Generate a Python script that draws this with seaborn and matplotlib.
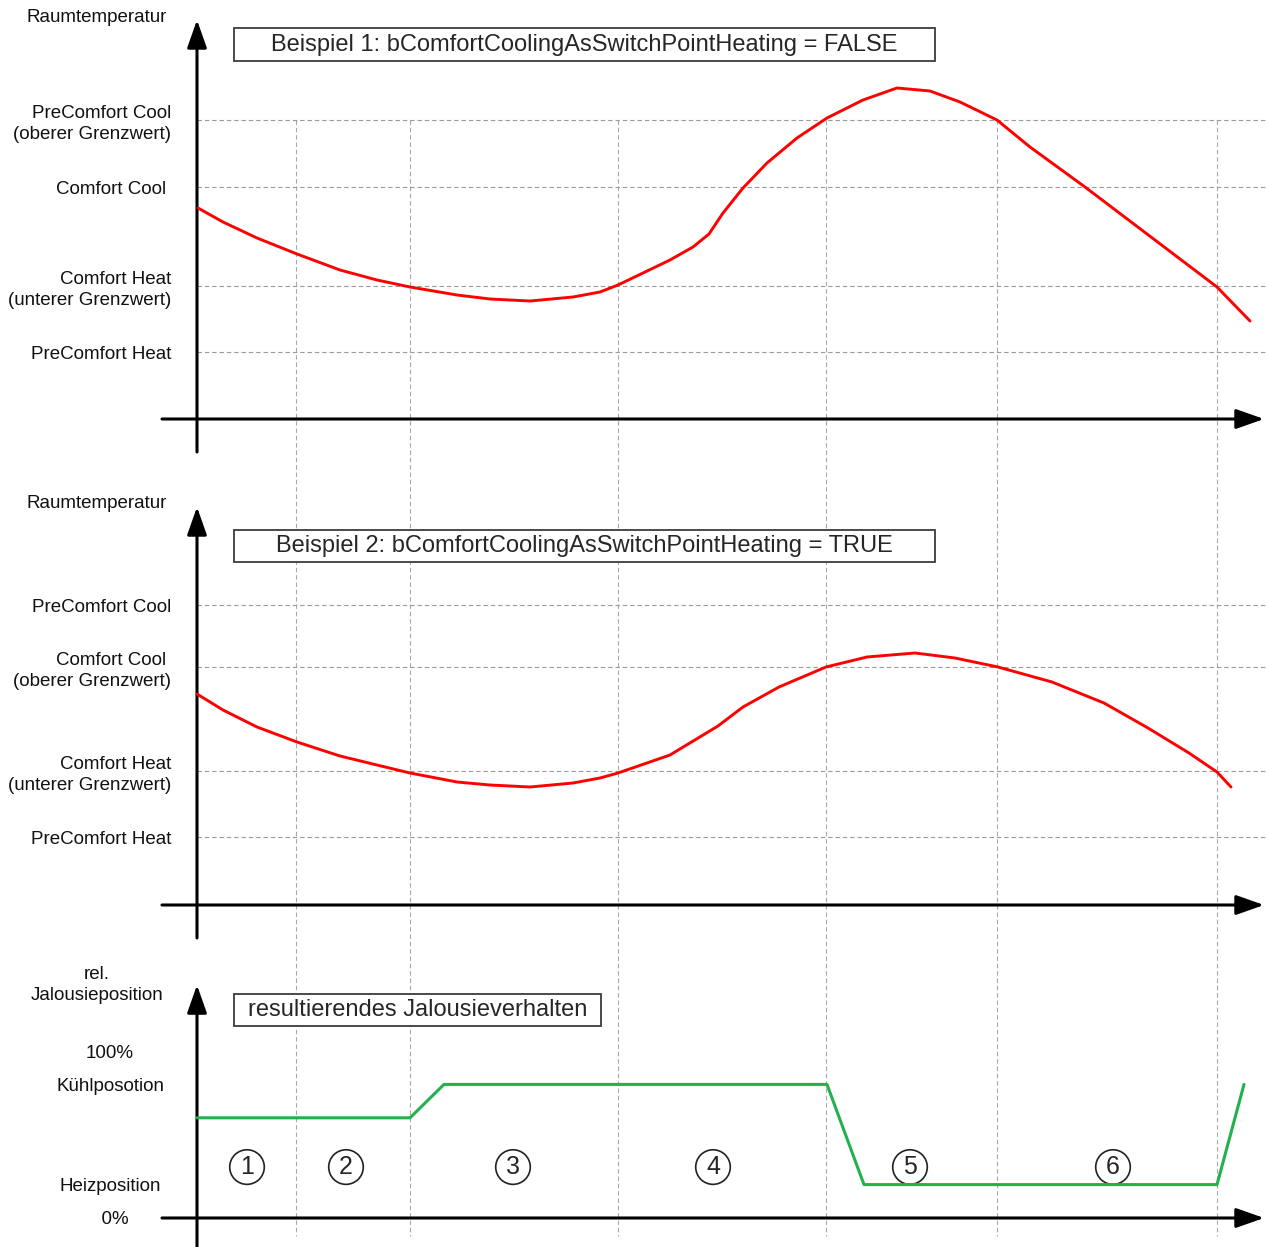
import matplotlib
matplotlib.use("Agg")
import matplotlib.pyplot as plt
import seaborn as sns
from matplotlib.patches import Rectangle

# ============================================================
# DATA  (time in relative units, temperature in relative units)
# ============================================================

# phase boundaries (dashed vertical lines)
phase_bounds = [9.9, 21.3, 42.1, 62.9, 80.0, 102.0]

# Beispiel 1
levels_1 = [6.7, 13.3, 23.2, 29.9]
labels_1 = ["PreComfort Heat", "Comfort Heat\n(unterer Grenzwert)",
            "Comfort Cool ", "PreComfort Cool\n(oberer Grenzwert)"]
time_1 = [0.1, 2.6, 6.0, 10.0, 14.3, 18.0, 21.3, 26.0, 29.3, 33.3, 37.6,
          40.3, 42.1, 44.6, 47.3, 49.6, 51.2, 52.6, 54.6, 57.0, 60.0, 63.0,
          66.6, 70.0, 73.3, 76.3, 80.0, 83.3, 88.8, 102.0, 105.3]
temp_1 = [21.1, 19.7, 18.1, 16.5, 14.9, 13.9, 13.2, 12.4, 12.0, 11.8, 12.2,
          12.7, 13.4, 14.6, 15.9, 17.2, 18.5, 20.6, 23.1, 25.6, 28.1, 30.1,
          31.9, 33.1, 32.8, 31.7, 29.9, 27.2, 23.2, 13.2, 9.8]

# Beispiel 2
levels_2 = [6.8, 13.4, 23.8, 30.0]
labels_2 = ["PreComfort Heat", "Comfort Heat\n(unterer Grenzwert)",
            "Comfort Cool \n(oberer Grenzwert)", "PreComfort Cool"]
time_2 = [0.0, 2.6, 6.0, 10.0, 14.3, 18.0, 21.3, 26.0, 29.3, 33.3, 37.6,
          40.3, 42.1, 47.3, 52.1, 54.6, 58.2, 62.9, 67.0, 71.8, 75.8, 80.1,
          85.5, 90.7, 95.1, 99.2, 102.0, 103.4]
temp_2 = [21.1, 19.5, 17.8, 16.3, 14.9, 14.0, 13.2, 12.3, 12.0, 11.8, 12.2,
          12.7, 13.2, 15.0, 17.9, 19.8, 21.8, 23.8, 24.8, 25.2, 24.7, 23.8,
          22.3, 20.2, 17.7, 15.2, 13.3, 11.8]

# resultierendes Jalousieverhalten (%)
levels_3 = [0, 20, 80, 100]
labels_3 = ["  0%", "Heizposition", "Kühlposotion", "100%"]
time_3 = [0.0, 21.3, 24.7, 63.0, 66.7, 102.0, 104.7]
pos_3 = [60, 60, 80, 80, 20, 20, 80]

phase_names = ["1", "2", "3", "4", "5", "6"]
phase_label_t = [5.0, 14.9, 31.6, 51.6, 71.3, 91.6]
phase_label_pos = 30.5

# ============================================================
# STYLE
# ============================================================

sns.set_style("white")
plt.rcParams["font.family"] = ["Liberation Sans", "DejaVu Sans"]

W, H = 1266, 1247
XLIM = (-19.7, 106.9)
GRID_KW = dict(colors="#9a9a9a", linewidths=0.8, linestyles=(0, (4, 2.6)))
ARROW = dict(arrowstyle="-|>,head_length=1.7,head_width=0.6",
             color="black", lw=2.2, shrinkA=0, shrinkB=0)

fig = plt.figure(figsize=(W / 100, H / 100), dpi=100)
fig.patch.set_facecolor("white")

# background axes in pixel rows for the long vertical phase lines
bg = fig.add_axes([0, 0, 1, 1], zorder=0)
bg.set_xlim(*XLIM)
bg.set_ylim(H, 0)
bg.axis("off")
bg.vlines(phase_bounds, 120, 1236, colors="#a8a8a8", linewidths=0.8,
          linestyles=(0, (4, 2.6)))


def make_panel(top_px, bottom_px, ylim, levels, labels, ylab, ylab_y,
               y_lo, y_hi, pad, center_labels=False, grid=True):
    ax = fig.add_axes([0, 1 - bottom_px / H, 1, (bottom_px - top_px) / H],
                      zorder=1)
    ax.set_xlim(*XLIM)
    ax.set_ylim(*ylim)
    ax.patch.set_alpha(0)
    for s in ax.spines.values():
        s.set_visible(False)
    ax.spines["left"].set_position(("data", 0))
    ax.set_xticks([])
    ax.set_yticks(levels)
    ax.set_yticklabels(labels)
    ax.tick_params(axis="y", direction="inout", length=10, width=1.4,
                   pad=pad, labelsize=13.5, labelcolor="#111111")
    for lbl in ax.get_yticklabels():
        lbl.set_linespacing(1.3)
        if center_labels:
            lbl.set_ha("center")
    if grid:
        ax.hlines(levels, 0, 106.8, **GRID_KW)

    # axis lines with arrow heads
    ax.annotate("", xy=(0, y_hi), xytext=(0, y_lo), arrowprops=ARROW,
                annotation_clip=False)
    ax.annotate("", xy=(106.7, 0), xytext=(-3.5, 0), arrowprops=ARROW,
                annotation_clip=False)

    ax.set_ylabel(ylab, rotation=0, fontsize=13.5, ha="center", va="center",
                  linespacing=1.3, color="#111111")
    ax.yaxis.set_label_coords(-10.0, ylab_y, transform=ax.transData)
    return ax


def title_box(ax, x0, x1, y0, y1, text):
    ax.add_patch(Rectangle((x0, y0), x1 - x0, y1 - y0, facecolor="white",
                           edgecolor="#3c3c3c", lw=1.3, zorder=3))
    ax.text((x0 + x1) / 2, (y0 + y1) / 2, text, ha="center",
            va="center", fontsize=17, zorder=4)


# ============================================================
# PANEL 1
# ============================================================

ax1 = make_panel(0, 460, (-4.1, 41.9), levels_1, labels_1, "Raumtemperatur",
                 40.1, -3.3, 39.9, 13.7)
sns.lineplot(x=time_1, y=temp_1, ax=ax1, color="#ff0000", linewidth=2.1,
             sort=False, zorder=5, solid_joinstyle="round")
title_box(ax1, 3.7, 73.8, 35.8, 39.1,
          "Beispiel 1: bComfortCoolingAsSwitchPointHeating = FALSE")

# ============================================================
# PANEL 2
# ============================================================

ax2 = make_panel(480, 945, (-4.0, 42.5), levels_2, labels_2, "Raumtemperatur",
                 40.1, -3.3, 39.8, 13.7)
sns.lineplot(x=time_2, y=temp_2, ax=ax2, color="#ff0000", linewidth=2.1,
             sort=False, zorder=5, solid_joinstyle="round")
title_box(ax2, 3.7, 73.8, 34.3, 37.5,
          "Beispiel 2: bComfortCoolingAsSwitchPointHeating = TRUE")

# ============================================================
# PANEL 3
# ============================================================

ax3 = make_panel(950, 1247, (-17.37, 160.5), levels_3, labels_3,
                 "rel.\nJalousieposition", 139.8, -17.4, 139.5, 57.6,
                 center_labels=True, grid=False)
sns.lineplot(x=time_3, y=pos_3, ax=ax3, color="#22b14c", linewidth=2.2,
             sort=False, zorder=5)
title_box(ax3, 3.7, 40.4, 115.0, 134.1, "resultierendes Jalousieverhalten")

ax3.scatter(phase_label_t, [phase_label_pos] * len(phase_label_t), s=620,
            facecolors="none", edgecolors="#222222", linewidths=1.2,
            zorder=4)
for t, name in zip(phase_label_t, phase_names):
    ax3.text(t, phase_label_pos, name, ha="center", va="center",
             fontsize=18, zorder=6)

# ============================================================
# SAVE
# ============================================================

fig.savefig("out.png", dpi=100)
